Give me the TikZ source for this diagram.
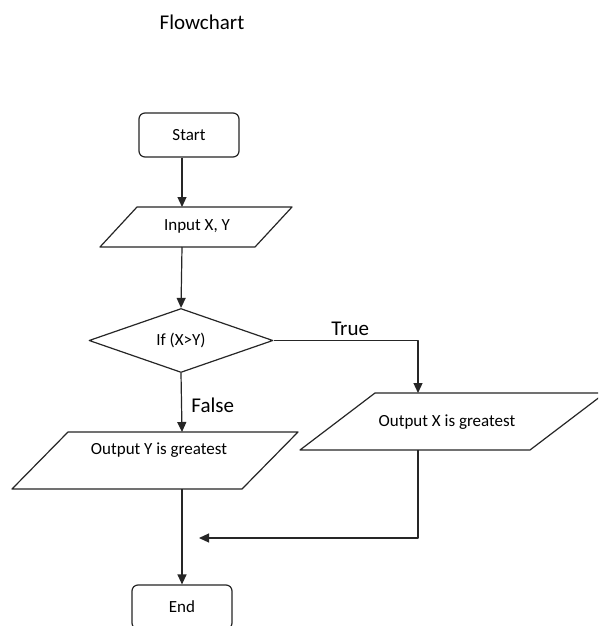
\documentclass[tikz,border=0pt]{standalone}
\usepackage{fontspec}
\setmainfont{Carlito}
\usetikzlibrary{shapes.geometric,arrows.meta}
\begin{document}
\begin{tikzpicture}[x=1pt,y=-1pt,
  line/.style={draw=black!85,line width=1.2pt,line join=round},
  arr/.style={line,-{Triangle[length=10pt,width=9pt]}},
  boxfont/.style={font=\fontsize{17}{20}\selectfont},
  labfont/.style={font=\fontsize{21}{25}\selectfont},
  term/.style={line,boxfont,rounded corners=6pt,minimum width=100pt,
    minimum height=44pt,inner sep=0pt},
  decision/.style={line,boxfont,diamond,inner sep=0pt}
]
\useasboundingbox (0,0) rectangle (598,626);
\fill[white] (0,0) rectangle (598,626);
\clip (0,0) rectangle (598,626);

% vertical axes of the two branches
\coordinate (ax) at (182,0);
\coordinate (tx) at (418,0);

\node[labfont] (title) at (202,22) {Flowchart};

\node[term] (start) at (189,135) {Start};

% input / output parallelograms
\draw[line] (137,207) coordinate (in-top) -- (292,207) -- (255,247)
  coordinate (in-bot) -- (100,247) -- cycle;
\node[boxfont] (in) at (197,226) {Input X, Y};

\node[decision,minimum width=184pt,minimum height=63pt] (dec) at (181,340.5) {If (X>Y)};

\draw[line] (375,393) coordinate (ox-top) -- (605,393) -- (530,450)
  coordinate (ox-bot) -- (300,450) -- cycle;
\node[boxfont] (ox) at (447,422) {Output X is greatest};

\draw[line] (68,432) coordinate (oy-top) -- (298,432) -- (242,489)
  coordinate (oy-bot) -- (12,489) -- cycle;
\node[boxfont] (oy) at (159,450) {Output Y is greatest};

\node[term] (end) at (182,607) {End};

\coordinate (merge) at (199,538);

% connectors
\draw[arr] (start.south -| ax) -- (in-top -| ax);
\draw[arr] (in-bot -| ax) -- (dec.north);
\draw[arr] (dec.south) -- (oy-top -| ax)
  node[labfont,pos=0.55,right=6pt] (false) {False};
\draw[arr] (dec.east) -- (dec.east -| tx)
  node[labfont,pos=0.53,above=1pt] (true) {True}
  -- (ox-top -| tx);
\draw[arr] (ox-bot -| tx) -- (tx |- merge) -- (merge);
\draw[arr] (oy-bot -| ax) -- (end.north -| ax);
\end{tikzpicture}
\end{document}
